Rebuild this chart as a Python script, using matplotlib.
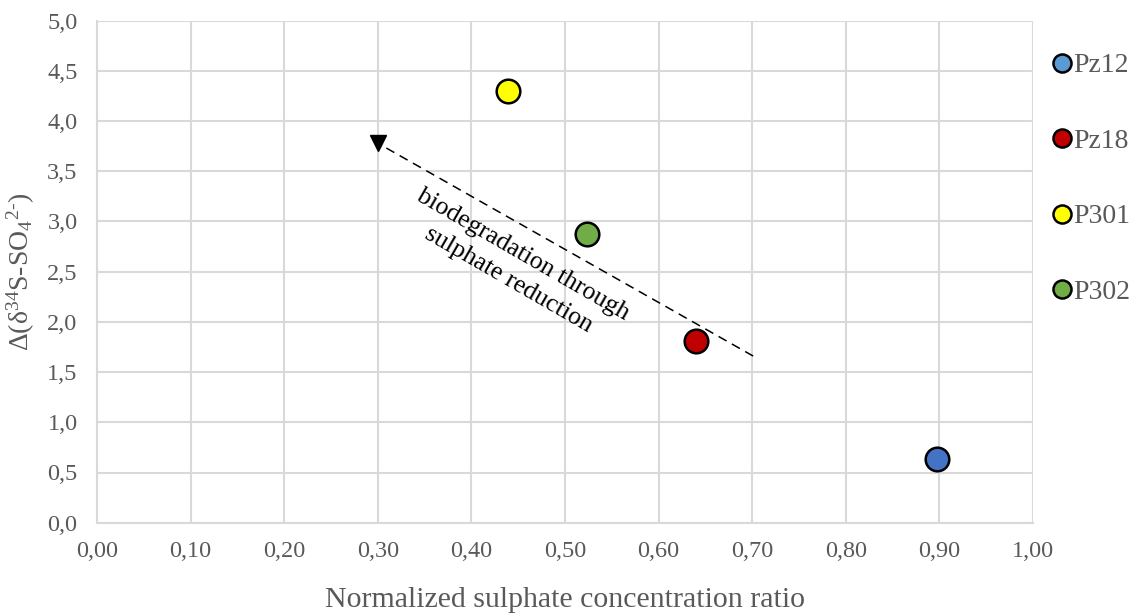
import matplotlib
matplotlib.use("Agg")
import matplotlib.pyplot as plt
from matplotlib.lines import Line2D

plt.rcParams['font.family'] = ['Liberation Serif', 'DejaVu Serif']
plt.rcParams['mathtext.fontset'] = 'custom'
plt.rcParams['mathtext.rm'] = 'Liberation Serif'
plt.rcParams['mathtext.it'] = 'Liberation Serif:italic'

# Wells and values
wells = ["Pz12", "Pz18", "P301", "P302"]
ratio = [0.897, 0.640, 0.439, 0.523]
delta_s = [0.63, 1.81, 4.30, 2.88]
marker_colors = ["#4472C4", "#C00000", "#FFFF00", "#70AD47"]
legend_colors = ["#5B9BD5", "#C00000", "#FFFF00", "#70AD47"]

x_ticks = [0.0, 0.1, 0.2, 0.3, 0.4, 0.5, 0.6, 0.7, 0.8, 0.9, 1.0]
y_ticks = [0.0, 0.5, 1.0, 1.5, 2.0, 2.5, 3.0, 3.5, 4.0, 4.5, 5.0]

# trend arrow (head, tail) in data units
arrow_head = (0.300, 3.78)
arrow_tail = (0.701, 1.66)

text_gray = "#595959"
grid_gray = "#D9D9D9"

fig = plt.figure(figsize=(11.4, 6.15), dpi=100)
ax = fig.add_axes([97 / 1140, 1 - 522.7 / 615, (1033 - 97) / 1140, (522.7 - 20.7) / 615])

ax.set_xlim(0, 1.0)
ax.set_ylim(0, 5.0)
ax.set_xticks(x_ticks)
ax.set_yticks(y_ticks)
ax.set_xticklabels([f"{v:.2f}".replace(".", ",") for v in x_ticks])
ax.set_yticklabels([f"{v:.1f}".replace(".", ",") for v in y_ticks])
ax.tick_params(length=0, labelsize=17.5, colors=text_gray)
ax.tick_params(axis="x", pad=13)
ax.tick_params(axis="y", pad=14)
ax.grid(True, color=grid_gray, linewidth=1.5)
ax.set_axisbelow(True)
for side in ["top", "right"]:
    ax.spines[side].set_visible(False)
for side in ["left", "bottom"]:
    ax.spines[side].set_color(grid_gray)
    ax.spines[side].set_linewidth(1.5)

# dashed trend line with triangle head
ax.plot([arrow_tail[0], arrow_head[0]], [arrow_tail[1], arrow_head[1]],
        linestyle=(0, (6, 4)), color="black", linewidth=1.1, zorder=3)
ax.plot([arrow_head[0]], [arrow_head[1]], marker="v", markersize=11,
        color="black", linestyle="none", zorder=3)
ax.text(0.447, 2.54, "biodegradation through\nsulphate reduction",
        rotation=-30, rotation_mode="anchor", ha="center", va="center",
        fontsize=18.5, color="black", linespacing=1.4,
        transform=ax.transData)

for x, y, c in zip(ratio, delta_s, marker_colors):
    ax.plot([x], [y], marker="o", markersize=17, markerfacecolor=c,
            markeredgecolor="black", markeredgewidth=1.8, linestyle="none", zorder=4)

ax.set_xlabel("Normalized sulphate concentration ratio", fontsize=21.5,
              color=text_gray)
ax.xaxis.label.set_va("center")
ax.xaxis.set_label_coords(0.5, -(600 - 522.7) / 502)
ax.set_ylabel("$\\mathregular{\\Delta(\\delta^{34}S\u2010SO_4{}^{2\u2010})}$", fontsize=20,
              color=text_gray)
ax.yaxis.label.set_va("center")
ax.yaxis.set_label_coords(-(97 - 21) / 936, 0.5)

handles = [Line2D([], [], marker="o", markersize=13, markerfacecolor=c,
                  markeredgecolor="black", markeredgewidth=1.8, linestyle="none")
           for c in legend_colors]
leg = fig.legend(handles, wells, loc="upper left",
                 bbox_to_anchor=(1040 / 1140, 1 - 39 / 615),
                 frameon=False, fontsize=20, handlelength=0.6,
                 handletextpad=0.1, labelspacing=1.8, borderpad=0)
for t in leg.get_texts():
    t.set_color(text_gray)

fig.savefig("out.png", dpi=100)
